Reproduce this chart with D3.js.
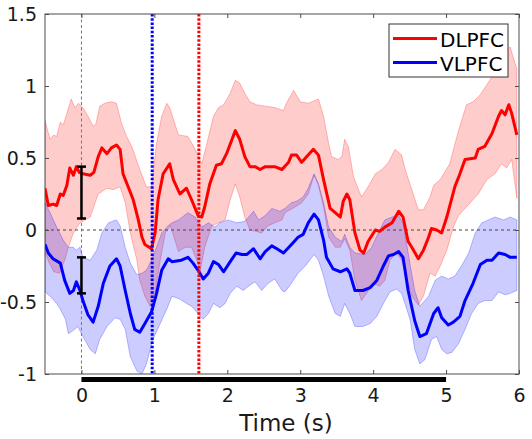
<!DOCTYPE html>
<html>
<head>
<meta charset="utf-8">
<script src="https://cdn.jsdelivr.net/npm/d3@7"></script>
<style>
  body { margin: 0; background: #fff; }
  svg { display: block; font-family: "DejaVu Sans", sans-serif; }
</style>
</head>
<body>
<script>
const width = 532;
const height = 439;
const margin = { left: 45, right: 13, top: 14, bottom: 65 };

// DLPFC mean
const redT = [-0.5,-0.455,-0.39,-0.34,-0.29,-0.25,-0.2,-0.16,-0.11,-0.07,-0.03,0.02,0.12,0.17,0.23,0.28,0.35,0.41,0.48,0.53,0.57,0.64,0.71,0.78,0.83,0.87,0.96,1.01,1.05,1.12,1.21,1.26,1.35,1.44,1.51,1.60,1.65,1.69,1.76,1.85,1.92,1.99,2.11,2.17,2.24,2.31,2.38,2.45,2.52,2.65,2.75,2.84,2.88,2.95,3.02,3.09,3.18,3.25,3.32,3.41,3.48,3.55,3.59,3.64,3.68,3.75,3.82,3.87,3.93,4.03,4.09,4.16,4.26,4.35,4.41,4.48,4.53,4.62,4.69,4.76,4.80,4.87,4.94,5.01,5.12,5.19,5.26,5.40,5.44,5.53,5.63,5.72,5.76,5.81,5.86,5.90,5.97];
const redMean = [0.29,0.17,0.18,0.17,0.25,0.24,0.31,0.43,0.38,0.44,0.40,0.39,0.38,0.40,0.51,0.57,0.53,0.57,0.59,0.56,0.39,0.30,0.21,0.07,-0.05,-0.10,-0.13,-0.02,0.21,0.39,0.46,0.35,0.25,0.29,0.21,0.10,0.09,0.16,0.32,0.45,0.46,0.53,0.69,0.63,0.51,0.44,0.44,0.42,0.44,0.44,0.42,0.47,0.52,0.52,0.47,0.51,0.56,0.52,0.35,0.15,0.12,0.09,0.20,0.25,0.21,-0.02,-0.14,-0.16,-0.08,0.00,-0.01,0.02,0.05,0.13,0.09,-0.08,-0.12,-0.20,-0.14,-0.05,0.01,0.00,-0.02,0.09,0.30,0.39,0.49,0.50,0.56,0.58,0.67,0.79,0.83,0.80,0.87,0.81,0.66];

// DLPFC band
const redUpT = [-0.5,-0.43,-0.38,-0.34,-0.29,-0.25,-0.2,-0.14,-0.09,-0.04,0.02,0.09,0.16,0.2,0.25,0.32,0.41,0.48,0.55,0.62,0.69,0.80,0.89,0.96,1.03,1.10,1.17,1.21,1.33,1.46,1.56,1.65,1.72,1.81,1.88,1.95,2.04,2.11,2.17,2.24,2.31,2.40,2.52,2.65,2.77,2.81,2.91,3.00,3.11,3.25,3.32,3.39,3.43,3.52,3.57,3.61,3.66,3.73,3.84,3.93,4.03,4.12,4.21,4.30,4.39,4.44,4.51,4.62,4.69,4.78,4.83,4.92,5.05,5.17,5.28,5.37,5.47,5.56,5.65,5.74,5.81,5.88,5.92,5.97];
const redUp = [0.76,0.63,0.66,0.65,0.75,0.73,0.81,0.91,0.85,0.88,0.85,0.79,0.72,0.74,0.86,0.88,0.89,0.88,0.74,0.65,0.58,0.42,0.30,0.30,0.60,0.79,0.88,0.85,0.66,0.65,0.56,0.46,0.60,0.79,0.85,0.87,0.95,1.04,1.02,0.95,0.89,0.87,0.86,0.85,0.83,0.88,0.97,0.89,0.88,0.91,0.79,0.60,0.51,0.49,0.51,0.63,0.58,0.37,0.23,0.30,0.39,0.42,0.47,0.56,0.52,0.42,0.31,0.14,0.14,0.23,0.31,0.35,0.46,0.69,0.87,0.89,0.94,1.01,1.08,1.18,1.25,1.27,1.20,1.12];
const redLoT = [-0.5,-0.45,-0.38,-0.3,-0.23,-0.18,-0.11,-0.02,0.12,0.23,0.35,0.44,0.53,0.60,0.67,0.76,0.80,0.87,0.94,1.01,1.08,1.15,1.22,1.33,1.42,1.51,1.58,1.63,1.69,1.79,1.88,1.97,2.04,2.11,2.17,2.24,2.31,2.40,2.47,2.56,2.65,2.75,2.79,2.93,3.02,3.11,3.19,3.25,3.32,3.39,3.48,3.55,3.61,3.68,3.75,3.84,3.91,4.00,4.09,4.16,4.23,4.32,4.39,4.44,4.53,4.62,4.69,4.78,4.85,4.92,5.01,5.10,5.17,5.28,5.35,5.44,5.56,5.67,5.76,5.83,5.90,5.97];
const redLo = [-0.15,-0.22,-0.29,-0.30,-0.21,-0.12,-0.02,0.05,0.09,0.25,0.29,0.28,0.30,0.19,-0.02,-0.21,-0.35,-0.46,-0.53,-0.44,-0.21,-0.02,0.03,-0.15,-0.12,-0.12,-0.21,-0.28,-0.12,0.03,0.05,0.07,0.21,0.32,0.23,0.09,0.00,-0.01,-0.02,0.03,0.05,0.07,0.12,0.16,0.19,0.25,0.38,0.31,0.16,-0.05,-0.12,-0.12,-0.06,-0.14,-0.35,-0.49,-0.44,-0.37,-0.39,-0.35,-0.21,-0.16,-0.21,-0.30,-0.46,-0.52,-0.46,-0.30,-0.32,-0.25,-0.14,0.02,0.10,0.16,0.20,0.25,0.35,0.39,0.46,0.43,0.49,0.22];

// VLPFC mean
const blueT = [-0.5,-0.455,-0.39,-0.29,-0.23,-0.16,-0.11,-0.07,-0.02,0.02,0.09,0.16,0.23,0.30,0.39,0.48,0.53,0.60,0.67,0.73,0.80,0.87,0.96,1.03,1.10,1.19,1.24,1.37,1.46,1.53,1.60,1.67,1.74,1.81,1.88,1.95,2.04,2.12,2.20,2.27,2.36,2.45,2.52,2.61,2.68,2.77,2.88,2.97,3.04,3.11,3.19,3.25,3.32,3.36,3.45,3.55,3.64,3.68,3.75,3.86,3.96,4.05,4.14,4.21,4.28,4.35,4.41,4.48,4.57,4.64,4.73,4.83,4.89,4.94,5.03,5.10,5.19,5.26,5.37,5.47,5.56,5.63,5.72,5.81,5.88,5.97];
const blueMean = [-0.10,-0.16,-0.20,-0.23,-0.35,-0.44,-0.42,-0.36,-0.42,-0.49,-0.59,-0.64,-0.53,-0.37,-0.25,-0.20,-0.25,-0.42,-0.58,-0.69,-0.71,-0.65,-0.57,-0.44,-0.28,-0.20,-0.22,-0.21,-0.19,-0.23,-0.28,-0.34,-0.30,-0.22,-0.24,-0.29,-0.22,-0.16,-0.17,-0.17,-0.13,-0.20,-0.15,-0.11,-0.13,-0.16,-0.10,-0.05,-0.03,0.05,0.11,0.07,-0.07,-0.19,-0.27,-0.29,-0.27,-0.30,-0.42,-0.42,-0.40,-0.35,-0.25,-0.18,-0.17,-0.15,-0.19,-0.42,-0.63,-0.74,-0.72,-0.58,-0.54,-0.61,-0.66,-0.64,-0.60,-0.49,-0.37,-0.24,-0.21,-0.21,-0.16,-0.17,-0.19,-0.19];

// VLPFC band
const blueUpT = [-0.5,-0.43,-0.34,-0.25,-0.18,-0.11,-0.07,-0.02,0.02,0.12,0.21,0.28,0.37,0.48,0.53,0.60,0.67,0.76,0.83,0.89,0.96,1.03,1.10,1.19,1.24,1.33,1.46,1.56,1.65,1.74,1.83,1.90,2.01,2.13,2.24,2.36,2.43,2.52,2.61,2.72,2.79,2.88,2.95,3.04,3.11,3.19,3.25,3.32,3.39,3.48,3.57,3.61,3.68,3.75,3.89,3.98,4.07,4.16,4.26,4.35,4.41,4.48,4.51,4.57,4.64,4.76,4.85,4.94,5.03,5.12,5.21,5.31,5.40,5.49,5.58,5.67,5.79,5.88,5.97];
const blueUp = [0.19,0.12,0.02,-0.07,-0.12,-0.12,-0.14,-0.12,-0.19,-0.21,-0.14,-0.02,0.05,0.07,0.03,-0.12,-0.23,-0.31,-0.30,-0.28,-0.21,-0.12,-0.02,0.03,0.05,0.07,0.12,0.09,0.02,0.05,0.02,0.05,0.07,0.05,0.06,0.13,0.07,0.10,0.15,0.13,0.15,0.19,0.20,0.23,0.29,0.39,0.32,0.19,0.02,-0.05,-0.08,-0.03,-0.12,-0.16,-0.17,-0.12,-0.02,0.07,0.09,0.10,0.05,-0.16,-0.25,-0.42,-0.53,-0.46,-0.35,-0.32,-0.34,-0.32,-0.25,-0.16,-0.02,0.05,0.07,0.09,0.07,0.09,0.07];
const blueLoT = [-0.5,-0.43,-0.34,-0.29,-0.22,-0.18,-0.12,-0.05,0.02,0.12,0.19,0.25,0.35,0.46,0.53,0.60,0.67,0.76,0.83,0.89,0.98,1.08,1.17,1.24,1.35,1.44,1.51,1.60,1.67,1.74,1.81,1.90,1.97,2.04,2.13,2.22,2.29,2.38,2.47,2.56,2.65,2.75,2.79,2.88,2.97,3.07,3.19,3.25,3.32,3.39,3.48,3.55,3.61,3.68,3.75,3.86,3.96,4.05,4.14,4.23,4.32,4.39,4.48,4.51,4.57,4.64,4.71,4.80,4.87,4.94,5.01,5.08,5.17,5.26,5.35,5.44,5.53,5.63,5.72,5.81,5.88,5.97];
const blueLo = [-0.43,-0.46,-0.51,-0.55,-0.62,-0.72,-0.70,-0.67,-0.74,-0.83,-0.86,-0.76,-0.67,-0.61,-0.62,-0.69,-0.88,-0.98,-1.00,-0.93,-0.76,-0.65,-0.55,-0.46,-0.48,-0.51,-0.53,-0.58,-0.62,-0.58,-0.51,-0.54,-0.51,-0.44,-0.39,-0.42,-0.39,-0.36,-0.42,-0.37,-0.34,-0.42,-0.43,-0.37,-0.30,-0.25,-0.17,-0.21,-0.32,-0.46,-0.58,-0.60,-0.51,-0.58,-0.67,-0.67,-0.65,-0.60,-0.51,-0.43,-0.41,-0.44,-0.58,-0.63,-0.83,-0.93,-0.90,-0.76,-0.74,-0.83,-0.86,-0.85,-0.79,-0.69,-0.58,-0.51,-0.49,-0.49,-0.43,-0.45,-0.44,-0.42];

// error bars at t = 0 : [t, low, high]
const errBars = [[0, 0.08, 0.44], [0, -0.44, -0.19]];
// event markers
const blueEvent = 0.97;
const redEvent = 1.61;
const timeBar = [0, 5];

const xTicks = [0, 1, 2, 3, 4, 5, 6];
const yTicks = [-1, -0.5, 0, 0.5, 1, 1.5];
const yTickLabels = ["-1", "-0.5", "0", "0.5", "1", "1.5"];
const legendNames = ["DLPFC", "VLPFC"];
const colors = ["#ff0000", "#0000ff"];

const svg = d3.select("body").append("svg")
    .attr("width", width)
    .attr("height", height);

const x = d3.scaleLinear().domain([-0.5, 6]).range([margin.left, width - margin.right]);
const y = d3.scaleLinear().domain([-1, 1.5]).range([height - margin.bottom, margin.top]);

svg.append("clipPath").attr("id", "clip")
  .append("rect")
    .attr("x", x(-0.5)).attr("y", y(1.5))
    .attr("width", x(6) - x(-0.5)).attr("height", y(-1) - y(1.5));

const plot = svg.append("g").attr("clip-path", "url(#clip)");

const line = d3.line().x(d => x(d[0])).y(d => y(d[1]));
const zip = (t, v) => t.map((d, i) => [d, v[i]]);

function band(upT, up, loT, lo) {
  return zip(upT, up).concat(zip(loT, lo).reverse());
}

const bands = [
  { pts: band(redUpT, redUp, redLoT, redLo), fill: "rgba(255,0,0,0.2)", stroke: "rgba(255,0,0,0.25)" },
  { pts: band(blueUpT, blueUp, blueLoT, blueLo), fill: "rgba(0,0,255,0.2)", stroke: "rgba(0,0,255,0.25)" }
];

plot.selectAll(".band")
  .data(bands)
  .enter().append("path")
    .attr("class", "band")
    .attr("d", d => line(d.pts) + "Z")
    .attr("fill", d => d.fill)
    .attr("stroke", d => d.stroke)
    .attr("stroke-width", 1);

// zero reference lines
plot.append("line")
    .attr("x1", x(-0.5)).attr("x2", x(6))
    .attr("y1", y(0)).attr("y2", y(0))
    .attr("stroke", "#444").attr("stroke-width", 1)
    .attr("stroke-dasharray", "3,3");
plot.append("line")
    .attr("x1", x(0)).attr("x2", x(0))
    .attr("y1", y(1.5)).attr("y2", y(-1))
    .attr("stroke", "#777").attr("stroke-width", 1)
    .attr("stroke-dasharray", "3,2.5");

const series = [zip(redT, redMean), zip(blueT, blueMean)];
plot.selectAll(".mean")
  .data(series)
  .enter().append("path")
    .attr("class", "mean")
    .attr("d", line)
    .attr("fill", "none")
    .attr("stroke", (d, i) => colors[i])
    .attr("stroke-width", 3)
    .attr("stroke-linejoin", "round");

// event dotted lines
[[blueEvent, colors[1]], [redEvent, colors[0]]].forEach(([t, c]) => {
  plot.append("line")
      .attr("x1", x(t)).attr("x2", x(t))
      .attr("y1", y(1.5)).attr("y2", y(-1))
      .attr("stroke", c).attr("stroke-width", 3)
      .attr("stroke-dasharray", "2.5,1.7");
});

// error bars
errBars.forEach(([t, lo, hi]) => {
  const g = svg.append("g").attr("stroke", "#000").attr("stroke-width", 2.5);
  g.append("line").attr("x1", x(t)).attr("x2", x(t)).attr("y1", y(lo)).attr("y2", y(hi));
  g.append("line").attr("x1", x(t) - 4.5).attr("x2", x(t) + 4.5).attr("y1", y(lo)).attr("y2", y(lo));
  g.append("line").attr("x1", x(t) - 4.5).attr("x2", x(t) + 4.5).attr("y1", y(hi)).attr("y2", y(hi));
});

// axes box
const axisColor = "#4d4d4d";
svg.append("rect")
    .attr("x", x(-0.5)).attr("y", y(1.5))
    .attr("width", x(6) - x(-0.5)).attr("height", y(-1) - y(1.5))
    .attr("fill", "none").attr("stroke", axisColor).attr("stroke-width", 1);

function styleAxis(g) {
  g.select(".domain").remove();
  g.selectAll(".tick line").attr("stroke", axisColor);
  g.selectAll("text").attr("fill", "#1a1a1a").style("font-size", "19px").style("font-family", "DejaVu Sans");
}

svg.append("g")
    .attr("transform", `translate(0,${y(-1)})`)
    .call(d3.axisBottom(x).tickValues(xTicks).tickSize(-4).tickPadding(15).tickFormat(d3.format("d")))
    .call(styleAxis);
svg.append("g")
    .attr("transform", `translate(0,${y(1.5)})`)
    .call(d3.axisTop(x).tickValues(xTicks).tickSize(-4).tickFormat(""))
    .call(styleAxis);
svg.append("g")
    .attr("transform", `translate(${x(-0.5)},0)`)
    .call(d3.axisLeft(y).tickValues(yTicks).tickSize(-4).tickPadding(8).tickFormat((d, i) => yTickLabels[i]))
    .call(styleAxis);
svg.append("g")
    .attr("transform", `translate(${x(6)},0)`)
    .call(d3.axisRight(y).tickValues(yTicks).tickSize(-4).tickFormat(""))
    .call(styleAxis);

// stimulus period bar
svg.append("rect")
    .attr("x", x(timeBar[0])).attr("width", x(timeBar[1]) - x(timeBar[0]))
    .attr("y", y(-1) + 3).attr("height", 5)
    .attr("fill", "#000");

svg.append("text")
    .attr("x", (x(-0.5) + x(6)) / 2 + 4)
    .attr("y", 431)
    .attr("text-anchor", "middle")
    .style("font-size", "23px")
    .attr("fill", "#1a1a1a")
    .text("Time (s)");

// legend
const legend = svg.append("g");
legend.append("rect")
    .attr("x", 389).attr("y", 24).attr("width", 119).attr("height", 53)
    .attr("fill", "#fff").attr("stroke", "#333").attr("stroke-width", 1);
legendNames.forEach((name, i) => {
  const ly = 38.5 + i * 24;
  legend.append("line")
      .attr("x1", 393).attr("x2", 437).attr("y1", ly).attr("y2", ly)
      .attr("stroke", colors[i]).attr("stroke-width", 3);
  legend.append("text")
      .attr("x", 440).attr("y", ly + 8)
      .style("font-size", "20px")
      .attr("fill", "#000")
      .text(name);
});
</script>
</body>
</html>
